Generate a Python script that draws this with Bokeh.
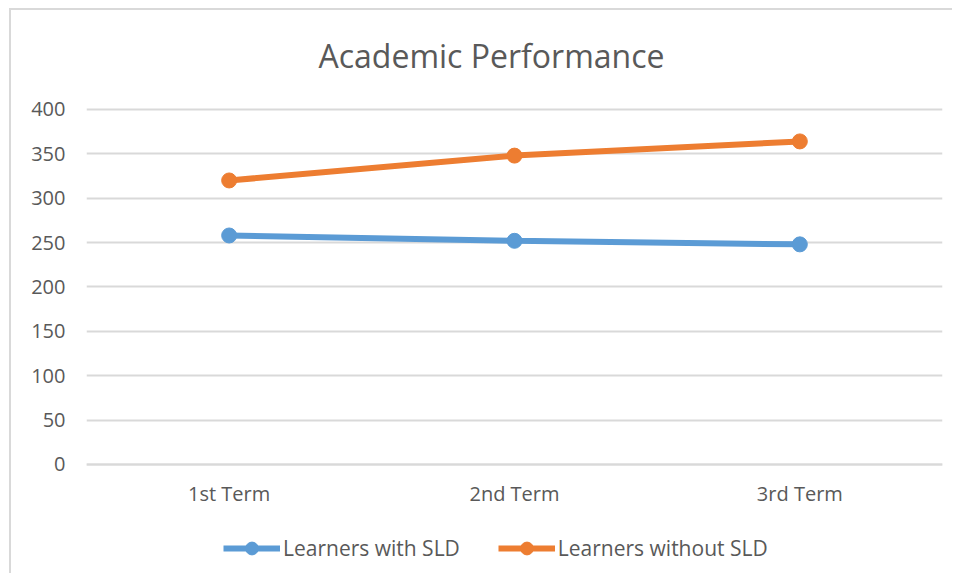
from bokeh.plotting import figure
from bokeh.models import FactorRange, Range1d, Legend, LegendItem, Label
from bokeh.embed import file_html
from bokeh.resources import INLINE

terms = ["1st Term", "2nd Term", "3rd Term"]
with_sld = [258, 252, 248]
without_sld = [320, 348, 364]
y_ticks = [0, 50, 100, 150, 200, 250, 300, 350, 400]
title_text = "Academic Performance"

BLUE = "#5B9BD5"
ORANGE = "#ED7D31"
GRID = "#D9D9D9"
TXT = "#595959"
FONT = "Open Sans"

p = figure(width=943, height=565, output_backend="svg", toolbar_location=None,
           x_range=FactorRange(*terms, range_padding=0), y_range=Range1d(-125.1, 511.5),
           min_border_left=75, min_border_right=12, min_border_top=0, min_border_bottom=0,
           styles={"position": "relative", "left": "9px", "top": "8px",
                   "border-left": "2px solid #D9D9D9", "border-top": "2px solid #D9D9D9"})
p.title = None
p.outline_line_color = None

p.add_layout(Label(text=title_text, x=405, y=520, x_units="screen", y_units="screen",
                   text_align="center", text_baseline="alphabetic", text_font=FONT,
                   text_font_size="32px", text_color=TXT))

r1 = p.line(terms, with_sld, line_color=BLUE, line_width=6)
m1 = p.scatter(terms, with_sld, size=15, fill_color=BLUE, line_color=BLUE)
r2 = p.line(terms, without_sld, line_color=ORANGE, line_width=6)
m2 = p.scatter(terms, without_sld, size=15, fill_color=ORANGE, line_color=ORANGE)

p.yaxis.ticker = y_ticks
p.ygrid.grid_line_color = GRID
p.ygrid.grid_line_width = 2
p.xgrid.grid_line_color = None

for ax in (p.xaxis[0], p.yaxis[0]):
    ax.major_tick_line_color = None
    ax.minor_tick_line_color = None
    ax.major_label_text_font = FONT
    ax.major_label_text_font_size = "20px"
    ax.major_label_text_color = TXT
p.yaxis.axis_line_color = None
p.xaxis.axis_line_color = GRID
p.xaxis.axis_line_width = 2
p.xaxis.fixed_location = 0
p.yaxis.major_label_standoff = 15
p.xaxis.major_label_standoff = 10

legend = Legend(items=[LegendItem(label="Learners with SLD", renderers=[r1, m1]),
                       LegendItem(label="Learners without SLD", renderers=[r2, m2])],
                orientation="horizontal", location=(137, 11),
                padding=0, margin=0, spacing=38, label_standoff=3,
                glyph_width=57, glyph_height=32,
                label_text_font=FONT, label_text_font_size="21px", label_text_color=TXT,
                border_line_color=None, background_fill_alpha=0)
p.add_layout(legend, "center")

open("out.html", "w").write(file_html(p, INLINE))
